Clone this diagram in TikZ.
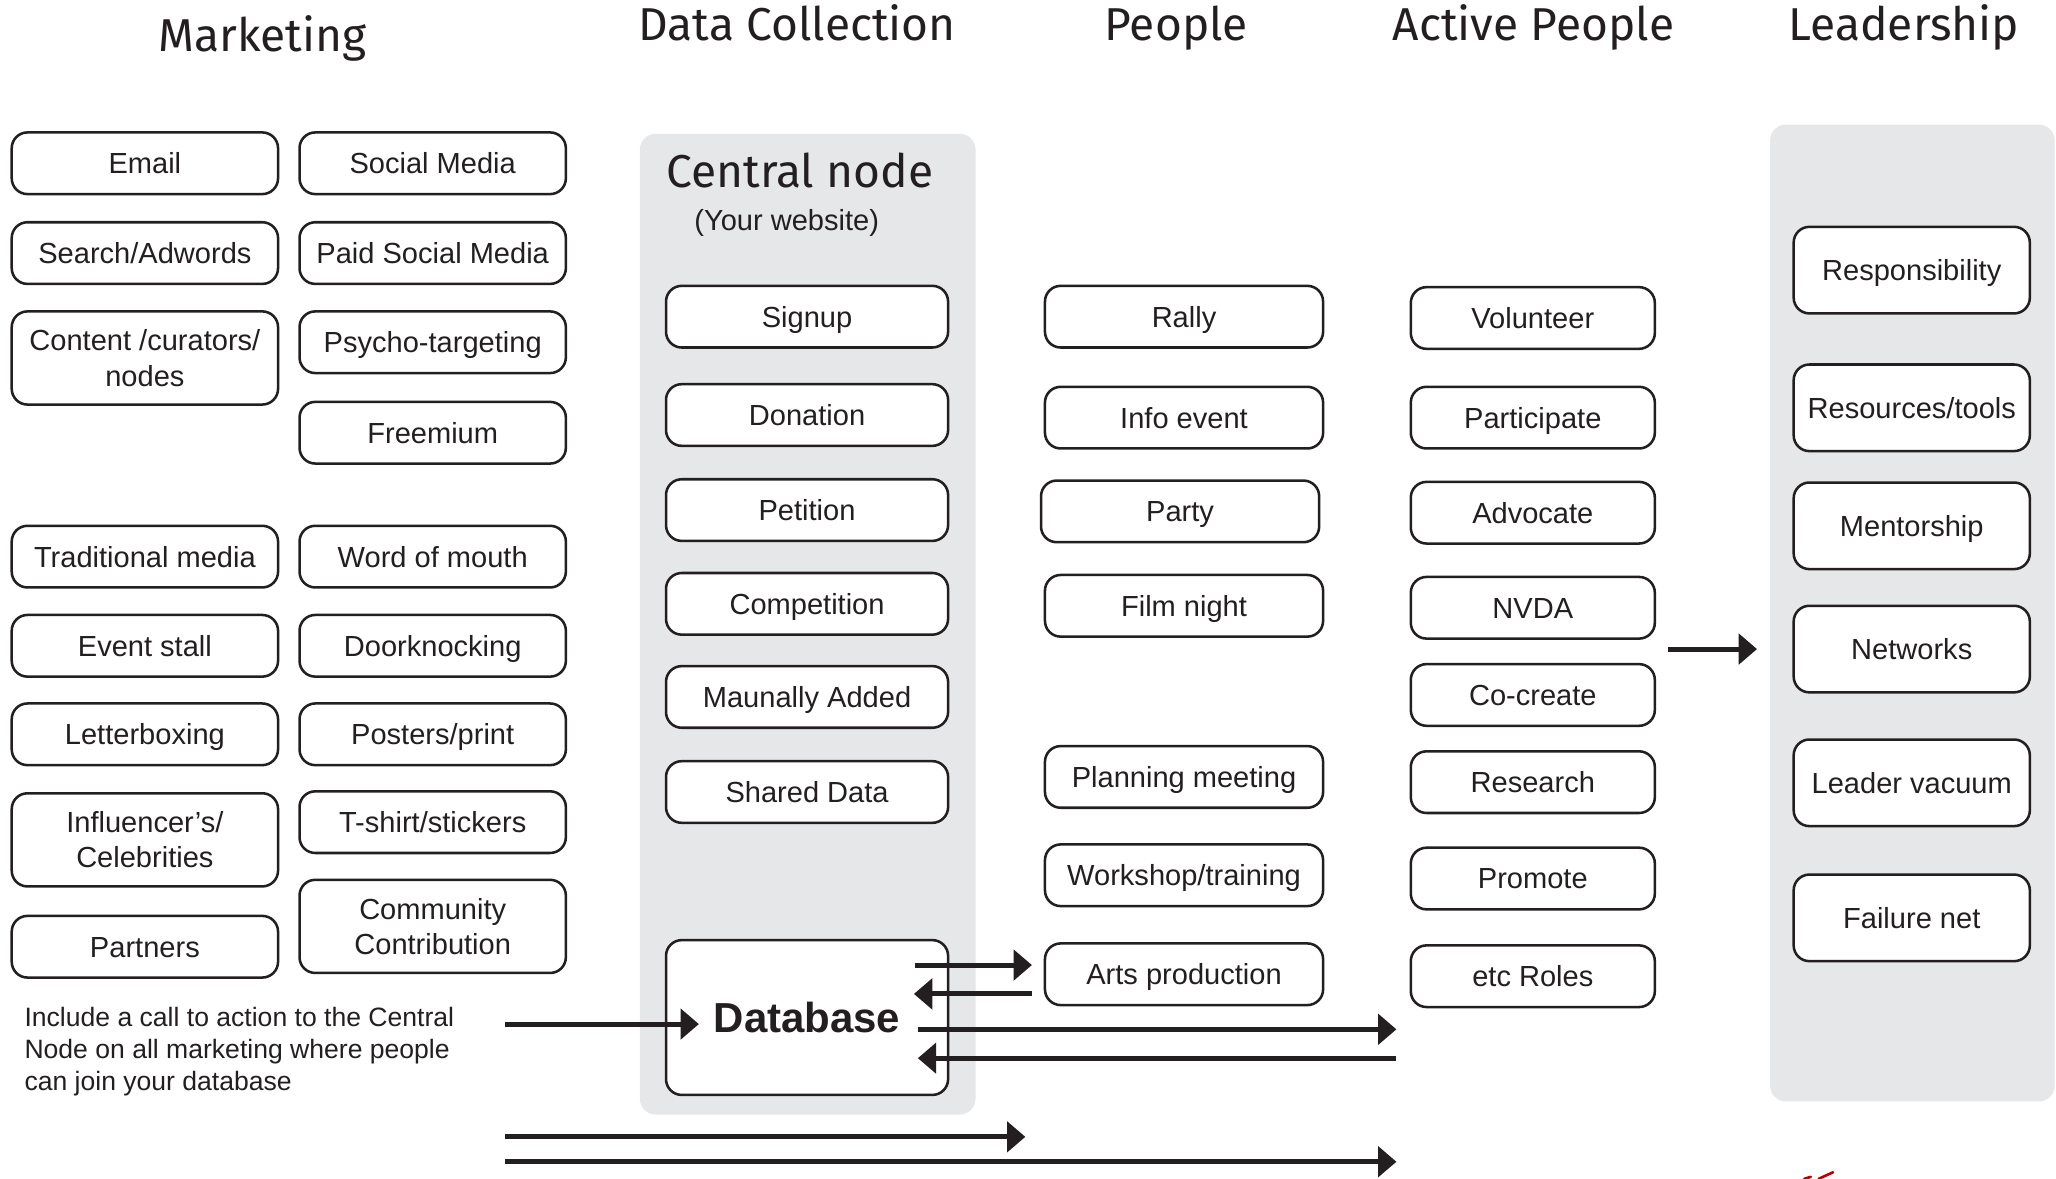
\documentclass[tikz,border=0pt]{standalone}
\usepackage{fontspec}
\setmainfont{Liberation Sans}
\newfontfamily\headfont{Fira Sans}
\usetikzlibrary{arrows.meta}
\definecolor{panelgray}{HTML}{E6E7E8}
\definecolor{ink}{HTML}{231F20}
\begin{document}
\begin{tikzpicture}[x=0.01cm,y=-0.01cm,
  box/.style={draw=ink, line width=0.55pt, rounded corners=0.12cm, fill=white, text=ink, align=center, inner sep=0pt,
    font=\fontsize{6.3}{7.7}\selectfont},
  one/.style={text height=4.5pt, text depth=0pt},
  mk/.style={box, one, minimum width=2.03cm, minimum height=0.47cm},
  mktall/.style={box, minimum width=2.03cm, minimum height=0.71cm},
  dc/.style={box, one, minimum width=2.15cm, minimum height=0.47cm},
  pp/.style={box, one, minimum width=2.12cm, minimum height=0.47cm},
  ap/.style={box, one, minimum width=1.86cm, minimum height=0.47cm},
  ld/.style={box, one, minimum width=1.80cm, minimum height=0.66cm},
  head/.style={anchor=base, text=ink, inner sep=0pt, font=\fontsize{10}{12}\selectfont\headfont},
  panel/.style={fill=panelgray, draw=none, rounded corners=0.12cm},
  arr/.style={draw=ink, line width=0.038cm, -{Triangle[length=0.14cm, width=0.23cm]}}
]
\useasboundingbox (0,0) rectangle (1568,899);

% headers
\node[head] (hMark) at (200,39.5) {Marketing};
\node[head] (hData) at (608,31) {Data Collection};
\node[head] (hPeople) at (897,31) {People};
\node[head] (hActive) at (1169.5,31) {Active People};
\node[head] (hLead) at (1452,31) {Leadership};

% panels
\fill[panel] (488,102) rectangle (744,850);
\fill[panel] (1350,95) rectangle (1567,840);

\node[head] (central) at (610,143) {Central node};
\node[anchor=base, text=ink, inner sep=0pt, font=\fontsize{6.3}{7.7}\selectfont] (web) at (600,175.5) {(Your website)};

% marketing left
\node[mk] (email) at (110.5,124.5) {Email};
\node[mk] (search) at (110.5,193) {Search/Adwords};
\node[mktall] (content) at (110.5,273) {Content /curators/\\nodes};
\node[mk] (trad) at (110.5,424.5) {Traditional media};
\node[mk] (stall) at (110.5,492.5) {Event stall};
\node[mk] (letter) at (110.5,560) {Letterboxing};
\node[mktall] (influ) at (110.5,640.5) {Influencer’s/\\Celebrities};
\node[mk] (partners) at (110.5,722) {Partners};
% marketing right
\node[mk] (social) at (330,124.5) {Social Media};
\node[mk] (paid) at (330,193) {Paid Social Media};
\node[mk] (psycho) at (330,261) {Psycho-targeting};
\node[mk] (free) at (330,330) {Freemium};
\node[mk] (word) at (330,424.5) {Word of mouth};
\node[mk] (door) at (330,492.5) {Doorknocking};
\node[mk] (posters) at (330,560) {Posters/print};
\node[mk] (tshirt) at (330,627) {T-shirt/stickers};
\node[mktall] (comm) at (330,706.5) {Community\\Contribution};

\node[anchor=base west, align=left, text=ink, inner sep=0pt, font=\fontsize{5.76}{6.95}\selectfont] (cta) at (18,832)
  {Include a call to action to the Central\\Node on all marketing where people\\can join your database};

% data collection
\node[dc] (signup) at (615.5,241.5) {Signup};
\node[dc] (donation) at (615.5,316.5) {Donation};
\node[dc] (petition) at (615.5,389) {Petition};
\node[dc] (comp) at (615.5,460.5) {Competition};
\node[dc] (manual) at (615.5,531.5) {Maunally Added};
\node[dc] (shared) at (615.5,604) {Shared Data};
\node[box, minimum width=2.15cm, minimum height=1.18cm, text height=6.5pt, text depth=0pt,
  font=\fontsize{9.1}{11}\selectfont\bfseries] (db) at (615.5,776) {Database};

% people
\node[pp] (rally) at (903,241.5) {Rally};
\node[pp] (info) at (903,318.5) {Info event};
\node[pp] (party) at (900,390) {Party};
\node[pp] (film) at (903,462) {Film night};
\node[pp] (plan) at (903,592.5) {Planning meeting};
\node[pp] (work) at (903,667.5) {Workshop/training};
\node[pp] (arts) at (903,743) {Arts production};

% active people
\node[ap] (vol) at (1169,242.5) {Volunteer};
\node[ap] (part) at (1169,318.5) {Participate};
\node[ap] (adv) at (1169,391) {Advocate};
\node[ap] (nvda) at (1169,463.5) {NVDA};
\node[ap] (cocreate) at (1169,530) {Co-create};
\node[ap] (research) at (1169,596.5) {Research};
\node[ap] (promote) at (1169,670) {Promote};
\node[ap] (etc) at (1169,744.5) {etc Roles};

% leadership
\node[ld] (resp) at (1458,206) {Responsibility};
\node[ld] (res) at (1458,311) {Resources/tools};
\node[ld] (ment) at (1458,401) {Mentorship};
\node[ld] (net) at (1458,495) {Networks};
\node[ld] (vac) at (1458,597) {Leader vacuum};
\node[ld] (fail) at (1458,700) {Failure net};

% connector end points
\coordinate (aL1) at (1272,495);  \coordinate (aL2) at (1340,495);
\coordinate (c1) at (385,781);    \coordinate (c2) at (533,781);
\coordinate (d1) at (698,736);    \coordinate (d2) at (787,736);
\coordinate (e1) at (787,758);    \coordinate (e2) at (697,758);
\coordinate (f1) at (700,785);    \coordinate (f2) at (1065,785);
\coordinate (g1) at (1065,807);   \coordinate (g2) at (700,807);
\coordinate (h1) at (385,867);    \coordinate (h2) at (782,867);
\coordinate (i1) at (385,886);    \coordinate (i2) at (1065,886);

\draw[arr] (aL1) -- (aL2);
\draw[arr] (c1) -- (c2);
\draw[arr] (d1) -- (d2);
\draw[arr] (e1) -- (e2);
\draw[arr] (f1) -- (f2);
\draw[arr] (g1) -- (g2);
\draw[arr] (h1) -- (h2);
\draw[arr] (i1) -- (i2);

% small red mark
\draw[red!75!black, line width=0.02cm, line cap=round] (1376,899) -- (1381,897.5) (1387,899) -- (1398,894);
\end{tikzpicture}
\end{document}
